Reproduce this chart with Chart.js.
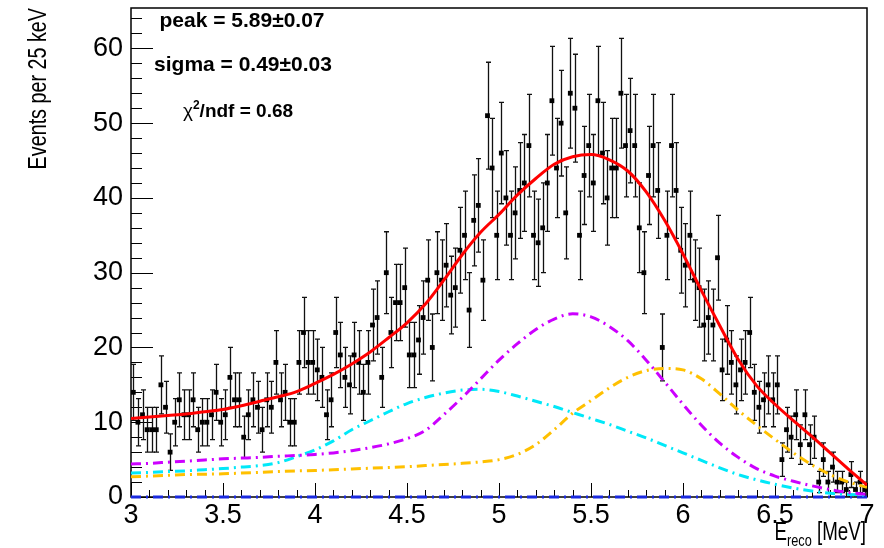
<!DOCTYPE html>
<html lang="en">
<head>
<meta charset="UTF-8">
<title>E_reco spectrum fit</title>
<script src="https://cdn.jsdelivr.net/npm/chart.js"></script>
<style>
    body { margin: 0; background: #fff; }
    .chart-container { position: relative; width: 884px; height: 548px; }
</style>
</head>
<body>
<div class="chart-container"><canvas id="fitChart" width="884" height="548"></canvas></div>
<script>
// histogram: 25 keV bins from 3 to 7 MeV
const binLow = 3.0;
const binWidth = 0.025;
const counts = [
    14, 10, 11, 9, 9, 9, 15, 12, 6, 10, 13, 11, 11, 13, 9, 10, 10, 11, 14,
    10, 11, 16, 13, 13, 8, 11, 13, 12, 9, 13, 12, 18, 13, 14, 10, 10, 18, 22, 18,
    18, 17, 16, 11, 13, 22, 19, 16, 15, 19, 18, 14, 18, 23, 24, 16, 30, 22, 26,
    26, 28, 19, 19, 21, 24, 29, 20, 30, 29, 31, 27, 28, 33, 35, 25, 37, 39, 29, 51,
    44, 35, 46, 40, 35, 38, 41, 42, 47, 35, 34, 36, 42, 53, 44, 50, 38, 54, 52, 35,
    43, 47, 42, 53, 46, 40, 44, 44, 54, 47, 49, 47, 36, 30, 43, 47, 41, 20, 35, 47,
    41, 33, 31, 35, 29, 28, 23, 24, 23, 32, 17, 21, 18, 15, 17, 18, 22, 14, 12, 13, 15, 13, 15,
    5, 9, 8, 11, 7, 11, 7, 8, 2, 5, 2, 4, 2, 2, 1, 3, 1, 2, 1
];

// fit curves, read every 100 keV
const curveE = [3.0, 3.1, 3.2, 3.3, 3.4, 3.5, 3.6, 3.7, 3.8, 3.9,
                4.0, 4.1, 4.2, 4.3, 4.4, 4.5, 4.6, 4.7, 4.8, 4.9,
                5.0, 5.1, 5.2, 5.3, 5.4, 5.5, 5.6, 5.7, 5.8, 5.9,
                6.0, 6.1, 6.2, 6.3, 6.4, 6.5, 6.6, 6.7, 6.8, 6.9, 7.0];
const totalFit = [10.5, 10.7, 10.9, 11.1, 11.4, 11.7, 12.2, 12.8, 13.4, 14.1,
                  15.2, 16.4, 17.8, 19.4, 21.3, 23.3, 25.8, 29.0, 32.4, 35.4,
                  37.8, 40.4, 42.6, 44.5, 45.5, 45.8, 45.1, 43.6, 40.8, 37.0,
                  32.5, 27.6, 22.9, 18.4, 14.9, 12.4, 10.2, 8.1, 5.9, 3.7, 1.6];
const violetFit = [4.4, 4.5, 4.65, 4.8, 4.95, 5.1, 5.2, 5.3, 5.45, 5.55,
                   5.7, 5.9, 6.2, 6.6, 7.1, 7.8, 8.9, 11.0, 13.3, 15.8,
                   18.3, 20.5, 22.4, 23.8, 24.5, 24.1, 22.8, 20.9, 18.3, 15.4,
                   12.4, 9.6, 7.2, 5.3, 3.8, 2.8, 2.1, 1.5, 1.0, 0.6, 0.35];
const cyanFit = [3.2, 3.3, 3.4, 3.5, 3.65, 3.8, 4.0, 4.2, 4.6, 5.4,
                 6.3, 7.5, 9.0, 10.2, 11.4, 12.5, 13.3, 13.9, 14.3, 14.4,
                 14.1, 13.5, 12.8, 12.1, 11.3, 10.5, 9.7, 8.8, 7.9, 6.9,
                 5.9, 4.9, 3.9, 3.0, 2.3, 1.7, 1.2, 0.8, 0.5, 0.35, 0.25];
const orangeFit = [2.7, 2.8, 2.9, 3.0, 3.05, 3.1, 3.2, 3.3, 3.4, 3.5,
                   3.55, 3.65, 3.75, 3.85, 3.95, 4.05, 4.2, 4.35, 4.5, 4.7,
                   5.0, 5.7, 7.0, 9.0, 11.2, 12.9, 14.6, 16.0, 16.9, 17.2,
                   17.0, 15.8, 13.8, 11.6, 9.6, 7.7, 5.9, 4.3, 3.0, 2.0, 1.3];
const flatE = [3.0, 7.0];
const flatFit = [0, 0];

const xTickLabels = ['3', '3.5', '4', '4.5', '5', '5.5', '6', '6.5', '7'];
const yTickLabels = ['0', '10', '20', '30', '40', '50', '60'];

const FONT = "'Liberation Sans', Arial, Helvetica, sans-serif";

const binCenters = counts.map((n, i) => binLow + binWidth * (i + 0.5));
const toXY = (xs, ys) => xs.map((x, i) => ({ x: x, y: ys[i] }));

function curve(label, xs, ys, color, dash, order) {
    return {
        label: label,
        data: toXY(xs, ys),
        borderColor: color,
        borderWidth: 3,
        borderDash: dash,
        pointRadius: 0,
        fill: false,
        cubicInterpolationMode: 'monotone',
        order: order
    };
}

const dashDot = [10, 5, 2, 5];

// ROOT-like frame, ticks, error bars and text
const rootStyle = {
    id: 'rootStyle',
    beforeDatasetsDraw(chart) {
        const { ctx, chartArea: a, scales: { x, y } } = chart;
        ctx.save();
        ctx.strokeStyle = '#000';
        ctx.lineWidth = 1.5;
        ctx.strokeRect(a.left, a.top, a.right - a.left, a.bottom - a.top);

        // x ticks (inside, pointing up)
        ctx.lineWidth = 1;
        ctx.beginPath();
        for (let k = 0; k <= 40; k++) {
            const px = Math.round(x.getPixelForValue(3 + k * 0.1)) + 0.5;
            const len = k % 5 === 0 ? 14 : 7;
            ctx.moveTo(px, a.bottom);
            ctx.lineTo(px, a.bottom - len);
        }
        // y ticks (inside, pointing right)
        for (let v = 0; v <= 64; v += 2) {
            const py = Math.round(y.getPixelForValue(v)) + 0.5;
            const len = v % 10 === 0 ? 22 : 11;
            ctx.moveTo(a.left, py);
            ctx.lineTo(a.left + len, py);
        }
        ctx.stroke();

        // error bars
        ctx.beginPath();
        ctx.rect(a.left, a.top, a.right - a.left, a.bottom - a.top);
        ctx.clip();
        ctx.strokeStyle = '#111';
        ctx.lineWidth = 1.3;
        counts.forEach((n, i) => {
            if (n <= 0) return;
            const err = Math.sqrt(n);
            const px = Math.round(x.getPixelForValue(binCenters[i])) + 0.5;
            const top = y.getPixelForValue(n + err);
            const bot = y.getPixelForValue(n - err);
            ctx.beginPath();
            ctx.moveTo(px, top); ctx.lineTo(px, bot);
            ctx.moveTo(px - 2.5, top); ctx.lineTo(px + 2.5, top);
            ctx.moveTo(px - 2.5, bot); ctx.lineTo(px + 2.5, bot);
            ctx.stroke();
        });
        ctx.restore();
    },
    afterDraw(chart) {
        const { ctx, chartArea: a } = chart;
        ctx.save();
        ctx.fillStyle = '#000';
        ctx.textBaseline = 'alphabetic';
        ctx.textAlign = 'left';

        // x title (condensed, right aligned)
        const squeeze = 0.75;
        const big = '25px ' + FONT, sub = '17px ' + FONT;
        ctx.font = big;
        const wE = ctx.measureText('E').width;
        const wM = ctx.measureText(' [MeV]').width;
        ctx.font = sub;
        const wR = ctx.measureText('reco').width;
        ctx.save();
        ctx.translate(a.right - 1, 0);
        ctx.scale(squeeze, 1);
        let tx = -(wE + wR + wM);
        ctx.font = big;
        ctx.fillText('E', tx, 540);
        tx += wE;
        ctx.font = sub;
        ctx.fillText('reco', tx, 546);
        tx += wR;
        ctx.font = big;
        ctx.fillText(' [MeV]', tx, 540);
        ctx.restore();

        // y title
        ctx.save();
        ctx.translate(39, a.top);
        ctx.rotate(-Math.PI / 2);
        ctx.scale(0.79, 1);
        ctx.font = '25px ' + FONT;
        ctx.textAlign = 'right';
        ctx.textBaseline = 'middle';
        ctx.fillText('Events per 25 keV', 0, 0);
        ctx.restore();

        // fit results
        const bold = 'bold 21px ' + FONT;
        ctx.font = bold;
        ctx.textAlign = 'center';
        ctx.fillText('peak = 5.89\u00b10.07', 242, 27);
        ctx.fillText('sigma = 0.49\u00b10.03', 243, 71);

        ctx.textAlign = 'left';
        const chiBold = 'bold 19px ' + FONT;
        ctx.font = '19px ' + FONT;
        const wChi = ctx.measureText('\u03c7').width;
        ctx.font = 'bold 12px ' + FONT;
        const wTwo = ctx.measureText('2').width;
        ctx.font = chiBold;
        const wRest = ctx.measureText('/ndf = 0.68').width;
        let cx = 238 - (wChi + wTwo + wRest) / 2;
        ctx.font = '19px ' + FONT;
        ctx.fillText('\u03c7', cx, 117);
        cx += wChi;
        ctx.font = 'bold 12px ' + FONT;
        ctx.fillText('2', cx, 109);
        cx += wTwo;
        ctx.font = chiBold;
        ctx.fillText('/ndf = 0.68', cx, 117);
        ctx.restore();
    }
};

const ctx = document.getElementById('fitChart').getContext('2d');
const fitChart = new Chart(ctx, {
    type: 'line',
    data: {
        datasets: [
            curve('total fit', curveE, totalFit, '#ff0000', [], 0),
            curve('component 1', curveE, violetFit, '#cc00ff', dashDot, 1),
            curve('component 2', curveE, cyanFit, '#00e8f8', dashDot, 2),
            curve('component 3', curveE, orangeFit, '#ffc000', dashDot, 3),
            Object.assign(curve('background', flatE, flatFit, '#1a2ae0', dashDot, 4), { clip: 4 }),
            {
                label: 'data',
                data: toXY(binCenters, counts),
                showLine: false,
                pointStyle: 'rect',
                pointRadius: 3.4,
                pointBackgroundColor: '#000',
                pointBorderWidth: 0,
                order: 5
            }
        ]
    },
    options: {
        responsive: false,
        animation: false,
        devicePixelRatio: 1,
        layout: { padding: { left: 0, right: 17, top: 8, bottom: 0 } },
        plugins: {
            legend: { display: false },
            tooltip: { enabled: false },
            title: { display: false }
        },
        scales: {
            x: {
                type: 'linear',
                min: 3,
                max: 7,
                grid: { display: false, drawTicks: false },
                border: { display: false },
                ticks: {
                    stepSize: 0.5,
                    maxRotation: 0,
                    autoSkip: false,
                    padding: 2,
                    color: '#000',
                    font: { family: FONT, size: 27 },
                    callback: (v, i) => xTickLabels[i]
                },
                afterFit: (s) => { s.height = 51; s.paddingLeft = 0; s.paddingRight = 0; }
            },
            y: {
                min: 0,
                max: 65.4,
                grid: { display: false, drawTicks: false },
                border: { display: false },
                ticks: {
                    stepSize: 10,
                    includeBounds: false,
                    padding: 8,
                    color: '#000',
                    font: { family: FONT, size: 27 },
                    callback: (v, i) => yTickLabels[i]
                },
                afterFit: (s) => { s.width = 131; s.paddingTop = 0; s.paddingBottom = 0; }
            }
        }
    },
    plugins: [rootStyle]
});
</script>
</body>
</html>
